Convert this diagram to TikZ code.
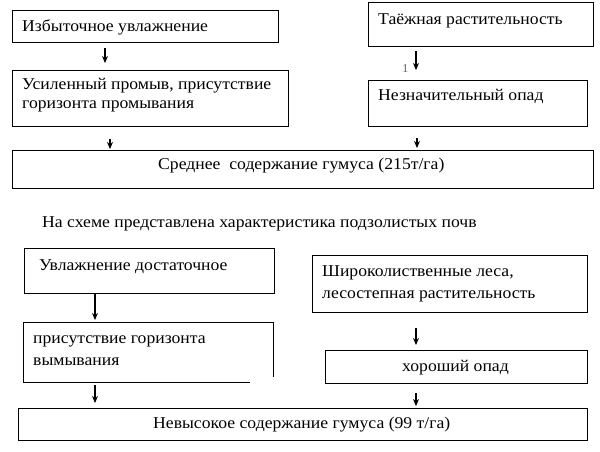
\documentclass[tikz,border=0pt]{standalone}
\usepackage{fontspec}
\setmainfont{Liberation Serif}[FakeStretch=1.07]
\usetikzlibrary{arrows.meta}
\usetikzlibrary{calc}

\begin{document}
\begin{tikzpicture}[x=1pt, y=-1pt,
        box/.style={draw, line width=1pt, inner sep=0pt, anchor=north west},
        openbox/.style={inner sep=0pt, anchor=north west},
        txt/.style={anchor=base west, inner sep=0pt, align=left,
            font=\fontsize{16.5}{19}\selectfont},
        arr/.style={-{Stealth[length=7pt, width=6pt]}, line width=1.2pt}]

        \useasboundingbox (0,0) rectangle (600,451);

        % upper scheme
        \node[box, minimum width=266, minimum height=32] (izb) at (12,10) {};
        \node[txt] (izbT) at (22,31) {Избыточное увлажнение};

        \node[box, minimum width=276, minimum height=56] (usil) at (12,70) {};
        \node[txt] (usilT) at (22,108) {Усиленный промыв, присутствие\\горизонта промывания};

        \node[box, minimum width=225, minimum height=44] (taez) at (368,2) {};
        \node[txt] (taezT) at (378,24) {Таёжная растительность};
        \node[txt, text=black!60, font=\fontsize{12}{13}\selectfont] (one) at (402,72) {1};

        \node[box, minimum width=219, minimum height=46] (nezn) at (368,80) {};
        \node[txt] (neznT) at (378,100.5) {Незначительный опад};

        \node[box, minimum width=581, minimum height=38] (sred) at (12,150) {};
        \node[txt] (sredT) at (158,169) {Среднее \ содержание гумуса (215т/га)};

        \draw[arr] ([xshift=93pt, yshift=-5pt]izb.south west) -- ([xshift=93pt, yshift=7pt]usil.north west);
        \draw[arr] ([xshift=98pt, yshift=-12pt]usil.south west) -- ([xshift=98pt, yshift=1pt]sred.north west);
        \draw[arr] ([xshift=48pt, yshift=-4pt]taez.south west) -- ([xshift=48pt, yshift=10pt]nezn.north west);
        \draw[arr] ([xshift=49pt, yshift=-11pt]nezn.south west) -- ([xshift=405pt, yshift=2pt]sred.north west);

        \node[txt] (capt) at (42,227) {На схеме представлена характеристика подзолистых почв};

        % lower scheme
        \node[box, minimum width=250, minimum height=45] (uvl) at (24,248) {};
        \node[txt] (uvlT) at (39,270) {Увлажнение достаточное};

        \node[openbox, minimum width=250, minimum height=60] (vym) at (23,322) {};
        \draw[line width=1pt] ([yshift=5pt]vym.south east) -- (vym.north east) -- (vym.north west)
            -- (vym.south west) -- ++(227,0);
        \node[txt, font=\fontsize{16.5}{22}\selectfont] (vymT) at (33,365) {присутствие горизонта\\вымывания};

        \node[box, minimum width=275, minimum height=57] (shir) at (312,255) {};
        \node[txt, font=\fontsize{16.5}{22}\selectfont] (shirT) at (322,298) {Широколиственные леса,\\лесостепная растительность};

        \node[box, minimum width=262, minimum height=33] (hor) at (325,350) {};
        \node[txt] (horT) at (402,371) {хороший опад};

        \node[box, minimum width=569, minimum height=32] (nevys) at (18,408) {};
        \node[txt] (nevysT) at (153,428) {Невысокое содержание гумуса (99 т/га)};

        \draw[arr] ([xshift=71pt]uvl.south west) -- ([xshift=72pt, yshift=2pt]vym.north west);
        \draw[arr] ([xshift=72pt, yshift=-3pt]vym.south west) -- ([xshift=77pt, yshift=5pt]nevys.north west);
        \draw[arr] ([xshift=104pt, yshift=-15pt]shir.south west) -- ([xshift=91pt, yshift=5pt]hor.north west);
        \draw[arr] ([xshift=91pt, yshift=-9pt]hor.south west) -- ([xshift=398pt, yshift=2pt]nevys.north west);
\end{tikzpicture}
\end{document}
